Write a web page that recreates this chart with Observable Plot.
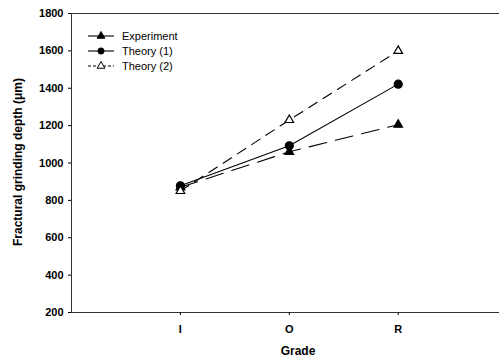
<!DOCTYPE html>
<html><head><meta charset="utf-8">
<script src="https://cdn.jsdelivr.net/npm/d3@7"></script>
<script src="https://cdn.jsdelivr.net/npm/@observablehq/plot@0.6"></script>
<style>
body{margin:0;background:#fff;}
#wrap{position:relative;width:500px;height:364px;font-family:"Liberation Sans",Arial,sans-serif;}
</style></head>
<body><div id="wrap"></div>
<script>
const grades = ["I", "O", "R"];
const gradePos = [1, 2, 3];
const experiment = [870, 1060, 1205];
const theory1 = [878, 1092, 1422];
const theory2 = [850, 1230, 1600];
const seriesNames = ["Experiment", "Theory (1)", "Theory (2)"];
const yTicks = [200, 400, 600, 800, 1000, 1200, 1400, 1600, 1800];

const styles = {
  "Experiment": {dash: "18,9", symbol: "triangle", fill: "black"},
  "Theory (1)": {dash: null, symbol: "circle", fill: "black"},
  "Theory (2)": {dash: "10,7", symbol: "triangle", fill: "white"}
};
const values = [experiment, theory1, theory2];
const rows = [];
seriesNames.forEach((s, i) => grades.forEach((g, j) => rows.push({series: s, grade: g, x: gradePos[j], y: values[i][j]})));

const marks = [];
seriesNames.forEach(s => {
  const d = rows.filter(r => r.series === s);
  const st = styles[s];
  marks.push(Plot.line(d, {x: "x", y: "y", stroke: "black", strokeWidth: 1.1, strokeDasharray: st.dash}));
});
seriesNames.forEach(s => {
  const d = rows.filter(r => r.series === s);
  const st = styles[s];
  marks.push(Plot.dot(d, {x: "x", y: "y", symbol: () => st.symbol, r: st.symbol === "circle" ? 4 : 3.2, fill: st.fill, stroke: "black", strokeWidth: 1.2}));
});

const chart = Plot.plot({
  width: 500, height: 364,
  marginLeft: 71, marginRight: 1, marginTop: 13, marginBottom: 52,
  style: {fontFamily: "Liberation Sans, Arial, sans-serif", fontSize: "11px", color: "black", background: "white"},
  x: {domain: [0, 3.93], label: null},
  y: {domain: [200, 1800], label: null},
  marks: [
    Plot.ruleX([0], {stroke: "#333", strokeWidth: 1}),
    Plot.ruleY([200], {stroke: "#333", strokeWidth: 1}),
    Plot.ruleY([1800], {stroke: "#333", strokeWidth: 1}),
    Plot.axisX({ticks: gradePos, tickFormat: (d) => grades[gradePos.indexOf(d)], tickSize: 3, tickPadding: 10, fontWeight: "bold", fontSize: 11, label: null}),
    Plot.axisY({ticks: yTicks, tickFormat: "d", tickSize: 3, tickPadding: 5, fontWeight: "bold", fontSize: 11, label: null}),
    ...marks
  ]
});
const wrap = document.getElementById("wrap");
wrap.appendChild(chart);

const svg = d3.select(chart);
svg.append("text").attr("x", 298).attr("y", 355).attr("text-anchor", "middle")
  .attr("font-size", 12).attr("font-weight", "bold").text("Grade");
svg.append("text").attr("transform", "translate(22,162) rotate(-90)").attr("text-anchor", "middle")
  .attr("font-size", 12).attr("font-weight", "bold").text("Fractural grinding depth (μm)");

// legend
const lg = svg.append("g").attr("text-anchor", "start");
seriesNames.forEach((s, i) => {
  const st = styles[s];
  const y = 36 + i * 15;
  lg.append("line").attr("x1", 88).attr("x2", 114).attr("y1", y).attr("y2", y)
    .attr("stroke", "black").attr("stroke-width", 1.1).attr("stroke-dasharray", i === 2 ? "3,2" : null);
  const sym = d3.symbol().type(st.symbol === "circle" ? d3.symbolCircle : d3.symbolTriangle).size(st.symbol === "circle" ? 30 : 26);
  lg.append("path").attr("d", sym()).attr("transform", `translate(101,${y})`)
    .attr("fill", st.fill).attr("stroke", "black").attr("stroke-width", 1);
  lg.append("text").attr("x", 122).attr("y", y + 4).attr("text-anchor", "start").attr("font-size", 11).text(s);
});
</script></body></html>
